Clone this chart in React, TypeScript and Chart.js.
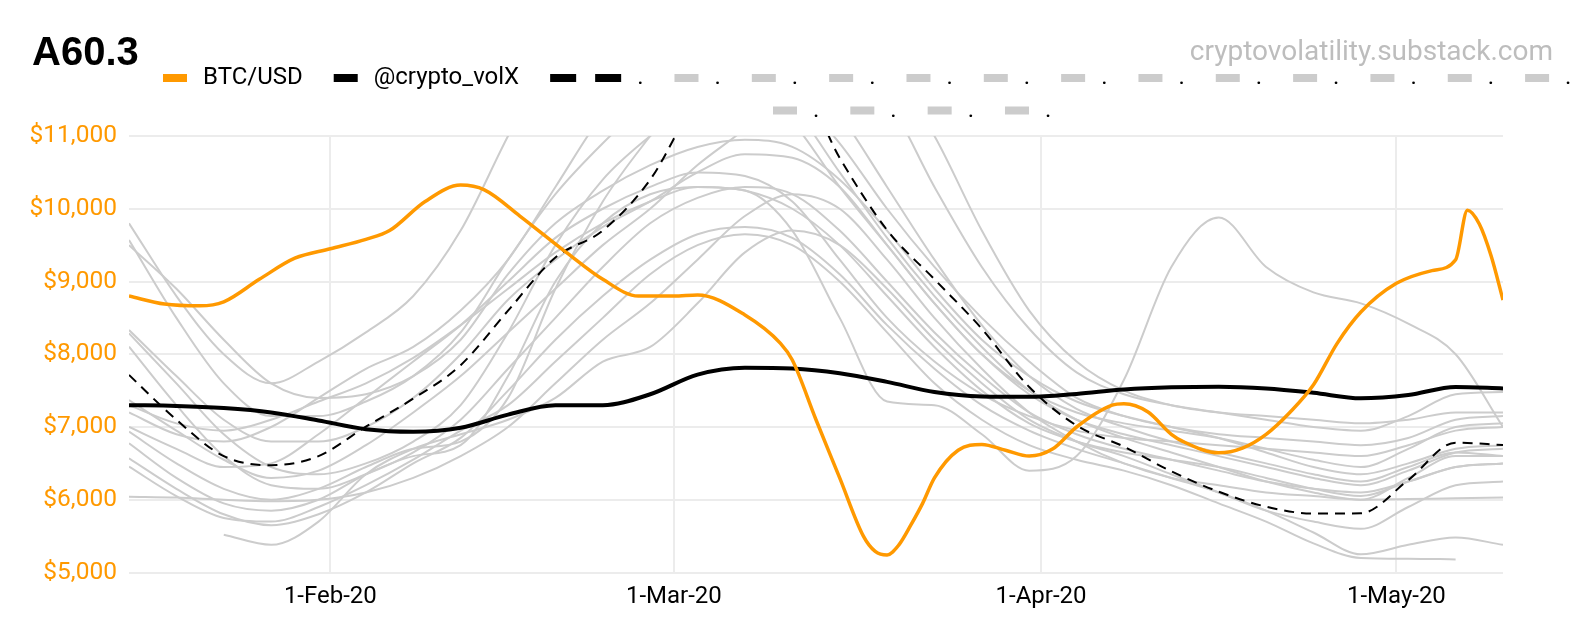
import { useEffect, useRef } from 'react';
import { Chart, registerables } from 'chart.js';

Chart.register(...registerables);

// day 0 = 15-Jan-20, last day 116 = 10-May-20
const tickDays = [17, 46, 77, 107];
const tickLabels = ['1-Feb-20', '1-Mar-20', '1-Apr-20', '1-May-20'];
const yTickValues = [5000, 6000, 7000, 8000, 9000, 10000, 11000];

const TITLE = 'A60.3';
const WATERMARK = 'cryptovolatility.substack.com';

// BTC/USD is sampled more densely than the other lines
const btcDays = [
  0, 3, 6, 8, 11, 14, 17, 20, 22, 25, 28, 30, 33, 37, 40, 43, 46, 48, 52, 55, 56, 58, 60, 62, 63, 64, 65,
  66, 67, 68, 70, 72, 74, 76, 78, 80, 83, 84, 86, 88, 89, 92, 94, 96, 98, 100, 102, 104, 107, 110, 112,
  113, 114, 115, 116,
];
const btcValues = [
  8800, 8690, 8665, 8720, 9030, 9320, 9450, 9580, 9700, 10100, 10325, 10260, 9900, 9390, 9030, 8800, 8800,
  8815, 8540, 8150, 7920, 7100, 6300, 5500, 5290, 5240, 5380, 5650, 5950, 6300, 6680, 6760, 6680, 6600,
  6700, 7000, 7300, 7320, 7210, 6900, 6800, 6645, 6710, 6900, 7200, 7580, 8150, 8580, 8975, 9150, 9300,
  9980, 9790, 9350, 8746,
];

// shared grid for the other lines: every 4 days, 0..116
const gridDays = [
  0, 4, 8, 12, 16, 20, 24, 28, 32, 36, 40, 44, 48, 52, 56, 60, 64, 68, 72, 76, 80, 84, 88, 92, 96, 100, 104,
  108, 112, 116,
];

const volXValues = [
  7300, 7290, 7260, 7200, 7090, 6970, 6935, 6990, 7170, 7300, 7300, 7450, 7720, 7815, 7805, 7740, 7620, 7480,
  7420, 7415, 7455, 7515, 7545, 7554, 7530, 7470, 7395, 7440, 7550, 7530,
];

const dashedValues = [
  7715, 7100, 6600, 6475, 6600, 7005, 7390, 7850, 8600, 9330, 9700, 10400, 11500, 12000, 11900, 10700, 9708,
  9030, 8350, 7550, 7020, 6730, 6390, 6111, 5905, 5810, 5815, 6270, 6785, 6752,
];

const greyValues: (number | null)[][] = [
  [9800, 8800, 8000, 7600, 7900, 8300, 8800, 9700, 11000, 12200, 12800, 12800, 12500, 12200, 11600, 10900, 10000, 9200, 8500, 7900, 7400, 7150, 7000, 6900, 6850, 6800, 6750, 6850, 7100, 7150],
  [9570, 8500, 7600, 7150, 7150, 7350, 7700, 8300, 9300, 10200, 10900, 11500, 11900, 11800, 11200, 10300, 9500, 8700, 8000, 7500, 7200, 7050, 6950, 6850, 6700, 6550, 6450, 6700, 7000, 7050],
  [9500, 8900, 8200, 7600, 7400, 7450, 7700, 8200, 9100, 9800, 10250, 10600, 10850, 10950, 10850, 10400, 9700, 8900, 8200, 7700, 7350, 7150, 7000, 6850, 6650, 6450, 6350, 6500, 6700, 6750],
  [8333, 7700, 7100, 6800, 6800, 7000, 7400, 8000, 8750, 9300, 9750, 10100, 10500, 10750, 10700, 10300, 9500, 8700, 8000, 7450, 7100, 6900, 6750, 6600, 6450, 6300, 6200, 6400, 6650, 6700],
  [8287, 7600, 6900, 6450, 6350, 6500, 6800, 7300, 8300, 9500, 10400, 11000, 11500, 11800, 11400, 10500, 9600, 8800, 8100, 7500, 7100, 6850, 6650, 6450, 6250, 6100, 6000, 6300, 6600, 6600],
  [8104, 7300, 6600, 6200, 6150, 6350, 6650, 7100, 7800, 8500, 9200, 9800, 10150, 10300, 10200, 9700, 9000, 8300, 7700, 7200, 6900, 6700, 6550, 6400, 6250, 6150, 6100, 6250, 6450, 6500],
  [6936, 6500, 6150, 6000, 6150, 6450, 6700, 6800, 7400, 8900, 10100, 11000, 11800, 12300, 12100, 11300, 10300, 9300, 8400, 7700, 7250, 7000, 6800, 6650, 6500, 6350, 6250, 6450, 6650, 6600],
  [6775, 6300, 5950, 5850, 6000, 6350, 6600, 6750, 7700, 9000, 9800, 10200, 10300, 10250, 10000, 9500, 8800, 8100, 7500, 7050, 6800, 6650, 6550, 6450, 6300, 6150, 6050, 6250, 6450, 6500],
  [6569, 6150, 5800, 5650, 5800, 6100, 6500, 6850, 7500, 8200, 8800, 9300, 9650, 9750, 9600, 9100, 8400, 7800, 7300, 6950, 6700, 6500, 6300, 6100, 5850, 5550, 5250, 5380, 5480, 5380],
  [6455, 6050, 5750, 5700, 5900, 6200, 6550, 6950, 7300, 7900, 8500, 9100, 9500, 9650, 9500, 9000, 8300, 7600, 7100, 6750, 6550, 6400, 6200, 5950, 5700, 5400, 5200, 5190, 5180, null],
  [6042, 6030, 6000, 5980, 6000, 6100, 6300, 6600, 7000, 7600, 8200, 8700, 9300, 9900, 10200, 10000, 9300, 8500, 7800, 7200, 6800, 6500, 6300, 6200, 6100, 6050, 6000, 6010, 6020, 6030],
  [null, null, 5520, 5380, 5700, 6350, 6700, 6900, 7100, 7400, 7900, 8100, 8700, 9400, 9700, 9500, 8900, 8200, 7600, 7100, 6800, 6600, 6350, 6100, 5850, 5700, 5600, 5900, 6200, 6250],
  [7370, 6950, 6550, 6300, 6400, 6750, 7200, 7700, 8300, 8900, 9500, 10000, 10600, 11100, 11700, 12000, 11500, 10300, 9200, 8350, 7750, 7450, 7300, 7200, 7100, 7000, 6950, 7150, 7450, 7480],
  [7200, 6900, 6800, 7000, 7400, 7800, 8100, 8600, 9300, 10300, 11300, 12000, 12600, 13000, 13000, 12700, 12000, 11000, 9700, 8600, 7900, 7500, 7300, 7200, 7150, 7100, 7050, 7100, 7200, 7200],
  [7300, 7050, 6950, 7100, 7350, 7600, 7950, 8400, 8900, 9400, 9800, 10100, 10300, 10250, 9700, 8500, 7350, 7300, 6900, 6400, 6600, 7650, 9200, 9880, 9200, 8850, 8700, 8420, 8000, 7000],
  [7000, 6700, 6450, 6500, 6900, 7400, 7900, 8400, 9000, 9600, 10000, 10300, 10500, 10450, 10100, 9300, 8500, 7900, 7450, 7150, 6950, 6850, 6800, 6750, 6700, 6650, 6600, 6750, 6950, 7000],
];

const ORANGE = '#FF9900';
const GREY = '#cccccc';
const GRID = '#ececec';
const FONT = 'Roboto, "Noto Sans", sans-serif';

const toPoints = (days: number[], values: (number | null)[]) =>
  days.map((d, i) => ({ x: d, y: values[i] }));

const sheetDecor = {
  id: 'sheetDecor',
  afterDraw(chart: any) {
    const ctx = chart.ctx as CanvasRenderingContext2D;
    ctx.save();

    ctx.fillStyle = '#000';
    ctx.textAlign = 'left';
    ctx.textBaseline = 'alphabetic';
    ctx.font = 'bold 40px "Liberation Sans", Arial, sans-serif';
    ctx.fillText(TITLE, 32, 65);

    ctx.fillStyle = '#bdbdbd';
    ctx.textAlign = 'right';
    ctx.font = `28px ${FONT}`;
    ctx.fillText(WATERMARK, 1553, 60);

    // legend, laid out like the sheet's: two rows
    ctx.textAlign = 'left';
    ctx.textBaseline = 'middle';
    ctx.font = `24px ${FONT}`;
    const rowLeft = [163, 773];
    const rowY = [78, 110.5];
    let row = 0;
    let x = rowLeft[0];
    chart.data.datasets.forEach((ds: any) => {
      const dashed = Array.isArray(ds.borderDash) && ds.borderDash.length > 0;
      const iconW = dashed ? 71 : 24;
      const textW = ctx.measureText(ds.label).width;
      const itemW = iconW + 16 + textW;
      if (x + itemW > chart.width + 4 && row === 0) {
        row = 1;
        x = rowLeft[1];
      }
      const y = rowY[row];
      ctx.fillStyle = ds.borderColor;
      if (dashed) {
        ctx.fillRect(x, y - 4, 26, 8);
        ctx.fillRect(x + 45, y - 4, 26, 8);
      } else {
        ctx.fillRect(x, y - 4, 24, 8);
      }
      ctx.fillStyle = '#000';
      ctx.fillText(ds.label, x + iconW + 16, y);
      x += itemW + 31;
    });

    ctx.restore();
  },
};

export default function App() {
  const chartRef = useRef<HTMLCanvasElement>(null);
  const chartInstance = useRef<Chart | null>(null);

  useEffect(() => {
    document.body.style.margin = '0';
    if (!chartRef.current) return;
    if (chartInstance.current) chartInstance.current.destroy();

    const datasets: any[] = [
      {
        label: 'BTC/USD',
        data: toPoints(btcDays, btcValues),
        borderColor: ORANGE,
        backgroundColor: ORANGE,
        borderWidth: 3.5,
      },
      {
        label: '@crypto_volX',
        data: toPoints(gridDays, volXValues),
        borderColor: '#000000',
        backgroundColor: '#000000',
        borderWidth: 4,
      },
      {
        label: '.',
        data: toPoints(gridDays, dashedValues),
        borderColor: '#000000',
        backgroundColor: '#000000',
        borderWidth: 2,
        borderDash: [10, 7],
      },
      ...greyValues.map((vals) => ({
        label: '.',
        data: toPoints(gridDays, vals),
        borderColor: GREY,
        backgroundColor: GREY,
        borderWidth: 2,
      })),
    ];

    const ctx = chartRef.current.getContext('2d');
    if (!ctx) return;

    chartInstance.current = new Chart(ctx, {
      type: 'line',
      data: { datasets },
      options: {
        animation: false,
        responsive: false,
        layout: { padding: { top: 136, right: 81, bottom: 0, left: 0 } },
        elements: {
          point: { radius: 0, hoverRadius: 0 },
          line: { cubicInterpolationMode: 'monotone', fill: false },
        },
        plugins: {
          legend: { display: false },
          tooltip: { enabled: false },
        },
        scales: {
          x: {
            type: 'linear',
            min: 0,
            max: 116,
            afterBuildTicks: (scale: any) => {
              scale.ticks = tickDays.map((v) => ({ value: v }));
            },
            afterFit: (scale: any) => {
              scale.height = 67.5;
            },
            grid: { color: GRID, lineWidth: 2, drawTicks: false },
            border: { display: false },
            ticks: {
              autoSkip: false,
              maxRotation: 0,
              padding: 10,
              color: '#000',
              font: { family: FONT, size: 24 },
              callback: (value: any) => tickLabels[tickDays.indexOf(Number(value))] ?? '',
            },
          },
          y: {
            type: 'linear',
            min: 5000,
            max: 11000,
            afterBuildTicks: (scale: any) => {
              scale.ticks = yTickValues.map((v) => ({ value: v }));
            },
            afterFit: (scale: any) => {
              scale.width = 129;
            },
            grid: { color: GRID, lineWidth: 2, drawTicks: false },
            border: { display: false },
            ticks: {
              padding: 12,
              color: ORANGE,
              font: { family: FONT, size: 24.5 },
              callback: (value: any) => '$' + Number(value).toLocaleString('en-US'),
            },
          },
        },
      },
      plugins: [sheetDecor],
    } as any);

    return () => {
      if (chartInstance.current) {
        chartInstance.current.destroy();
        chartInstance.current = null;
      }
    };
  }, []);

  return (
    <div style={{ width: 1584, height: 640, background: '#fff' }}>
      <canvas ref={chartRef} width={1584} height={640} />
    </div>
  );
}
